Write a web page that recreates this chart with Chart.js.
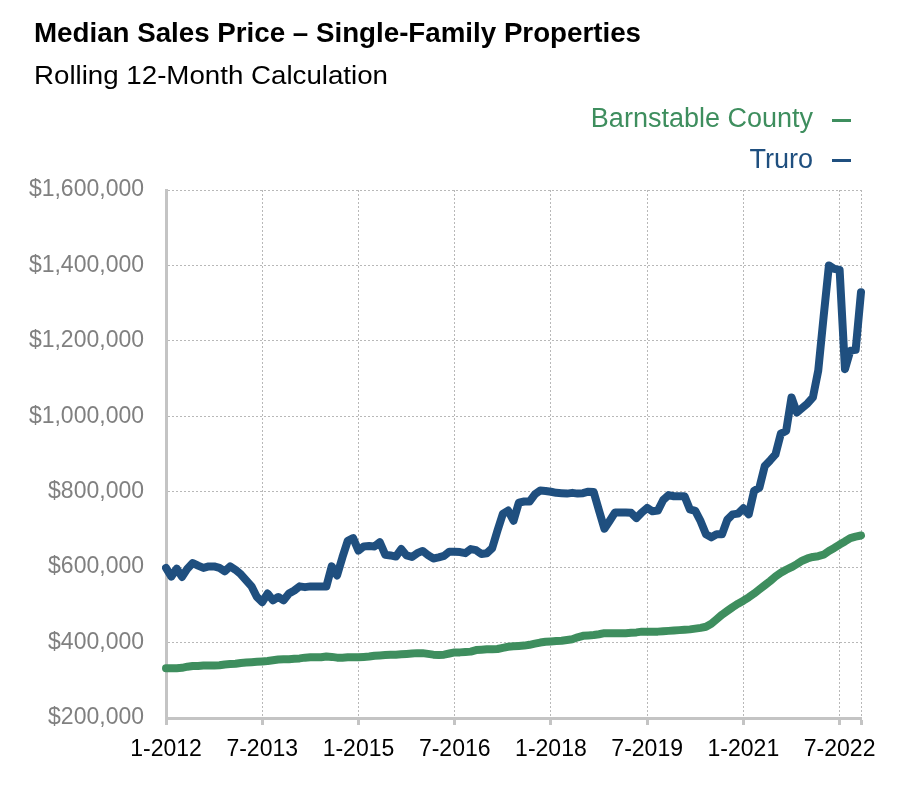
<!DOCTYPE html>
<html>
<head>
<meta charset="utf-8">
<script src="https://cdn.jsdelivr.net/npm/chart.js@4.4.1/dist/chart.umd.min.js"></script>
<style>
  html, body { margin: 0; padding: 0; background: #fff; }
  #wrap { position: relative; width: 900px; height: 798px; overflow: hidden; }
  #c { position: absolute; left: 0; top: 0; }
  .t { position: absolute; white-space: nowrap; transform-origin: 0 0; color: #000; }
  #title { left: 34px; top: 19px; font: bold 28px/28px "Liberation Sans Narrow", "Liberation Sans", Arial, sans-serif; }
  #subtitle { left: 34px; top: 62px; font: 26px/26px "Liberation Sans Narrow", "Liberation Sans", Arial, sans-serif; }
  .lg { position: absolute; white-space: nowrap; font: 27px/27px "Liberation Sans", Arial, sans-serif; text-align: right; }
  .dash { position: absolute; width: 19px; height: 3px; }
</style>
</head>
<body>
<div id="wrap">
  <canvas id="c" width="900" height="798"></canvas>
  <div id="title" class="t">Median Sales Price – Single-Family Properties</div>
  <div id="subtitle" class="t">Rolling 12-Month Calculation</div>
  <div class="lg" id="lg1" style="right:87px; top:105px; color:#3e8e5e;">Barnstable County</div>
  <div class="dash" style="left:832px; top:119px; background:#3e8e5e;"></div>
  <div class="lg" id="lg2" style="right:87px; top:146px; color:#1f4f7f;">Truro</div>
  <div class="dash" style="left:832px; top:159px; background:#1f4f7f;"></div>
</div>
<script>
// ---- Data ----
const seriesNames = ['Barnstable County', 'Truro'];
const tickLabels = ['1-2012', '7-2013', '1-2015', '7-2016', '1-2018', '7-2019', '1-2021', '7-2022'];
const yTicks = [200000, 400000, 600000, 800000, 1000000, 1200000, 1400000, 1600000];

// Monthly categories, Jan 2012 .. Nov 2022
const months = [];
for (let y = 2012; y <= 2022; y++) {
  for (let m = 1; m <= 12; m++) {
    if (y === 2022 && m > 11) break;
    months.push(m + '-' + y);
  }
}

// Barnstable County (thousands of $)
const barnstable = [
  332, 332, 332, 333, 336, 338, 338, 339, 339, 339, 340, 342,
  343, 344, 346, 347, 348, 349, 350, 351, 353, 355, 356, 356,
  357, 358, 360, 361, 361, 361, 363, 362, 360, 360, 361, 361,
  361, 362, 363, 365, 366, 367, 368, 368, 369, 370, 371, 372,
  372, 370, 368, 367, 368, 371, 374, 374, 375, 376, 380, 381,
  382, 382, 383, 386, 389, 390, 391, 392, 394, 397, 400, 402,
  403, 404, 405, 407, 409, 414, 418, 419, 420, 422, 425, 425,
  425, 425, 425, 426, 427, 429, 429, 429, 429, 430, 431, 432,
  433, 434, 435, 437, 439, 442, 450, 462, 474, 484, 494, 503,
  511, 520, 530, 541, 552, 563, 575, 585, 593, 600, 608, 617,
  623, 627, 629, 633, 643, 651, 660, 668, 677, 681, 684
];

// Truro (thousands of $)
const truro = [
  598, 575, 596, 574, 596, 611, 604, 598, 602, 602, 598, 589,
  602, 593, 581, 565, 549, 521, 507, 530, 512, 521, 512, 530,
  538, 549, 547, 549, 549, 549, 549, 602, 578, 626, 670, 677,
  644, 655, 656, 655, 666, 633, 631, 628, 648, 631, 627, 637,
  643, 632, 623, 626, 630, 641, 641, 640, 637, 648, 645, 635,
  637, 650, 697, 741, 750, 723, 771, 774, 774, 793, 803, 802,
  800, 797, 796, 795, 797, 795, 796, 800, 799, 750, 702, 723,
  745, 745, 745, 744, 730, 745, 757, 748, 750, 778, 791, 788,
  788, 788, 753, 749, 722, 687, 679, 687, 687, 726, 740, 742,
  756, 740, 802, 811, 868, 883, 899, 954, 961, 1050, 1010, 1022,
  1034, 1050, 1121, 1263, 1400, 1391, 1388, 1125, 1174, 1176, 1329
];

const GREEN = '#3e8e5e';
const BLUE = '#1f4f7f';
const GRID = '#b8b8b8';
const AXIS = '#c4c4c4';

const fontFam = '"Liberation Sans", Arial, Helvetica, sans-serif';

new Chart(document.getElementById('c'), {
  type: 'line',
  data: {
    labels: months,
    datasets: [
      {
        label: seriesNames[0],
        data: barnstable.map(v => v * 1000),
        borderColor: GREEN,
        backgroundColor: GREEN,
        borderWidth: 8,
        pointRadius: 0,
        tension: 0,
        borderJoinStyle: 'round',
        borderCapStyle: 'round'
      },
      {
        label: seriesNames[1],
        data: truro.map(v => v * 1000),
        borderColor: BLUE,
        backgroundColor: BLUE,
        borderWidth: 8,
        pointRadius: 0,
        tension: 0,
        borderJoinStyle: 'round',
        borderCapStyle: 'round'
      }
    ]
  },
  options: {
    responsive: false,
    animation: false,
    events: [],
    layout: { padding: { left: 0, right: 39, top: 190, bottom: 20 } },
    plugins: {
      legend: { display: false },
      title: { display: false },
      tooltip: { enabled: false }
    },
    scales: {
      x: {
        type: 'category',
        offset: false,
        afterFit: s => { s.height = 60; },
        grid: {
          display: true,
          drawOnChartArea: true,
          drawTicks: true,
          color: GRID,
          lineWidth: 1,
          tickLength: 7,
          tickWidth: 3,
          tickBorderDash: [],
          tickColor: ctx => (ctx.index === months.length - 1 ? 'rgba(0,0,0,0)' : AXIS)
        },
        border: { display: true, color: AXIS, width: 3, dash: [2, 2] },
        ticks: {
          autoSkip: false,
          maxRotation: 0,
          minRotation: 0,
          padding: 11,
          color: '#000',
          font: { family: fontFam, size: 23 },
          callback: function (value, index) {
            const lab = this.getLabelForValue(value);
            if (tickLabels.includes(lab)) return lab;
            if (index === months.length - 1) return '';
            return null;
          }
        }
      },
      y: {
        min: yTicks[0],
        max: yTicks[yTicks.length - 1],
        afterFit: s => { s.width = 166; },
        afterBuildTicks: s => { s.ticks = yTicks.map(v => ({ value: v })); },
        grid: {
          color: GRID,
          lineWidth: 1,
          drawTicks: false
        },
        border: { display: true, color: AXIS, width: 3, dash: [2, 2] },
        ticks: {
          padding: 22,
          color: '#808080',
          font: { family: fontFam, size: 23 },
          callback: v => '$' + Number(v).toLocaleString('en-US')
        }
      }
    }
  }
});

// Fit condensed title texts to their measured widths in the reference
function fitWidth(id, target) {
  const el = document.getElementById(id);
  const w = el.getBoundingClientRect().width;
  if (w > 0) el.style.transform = 'scaleX(' + (target / w) + ')';
}
fitWidth('title', 607);
fitWidth('subtitle', 354);
</script>
</body>
</html>
